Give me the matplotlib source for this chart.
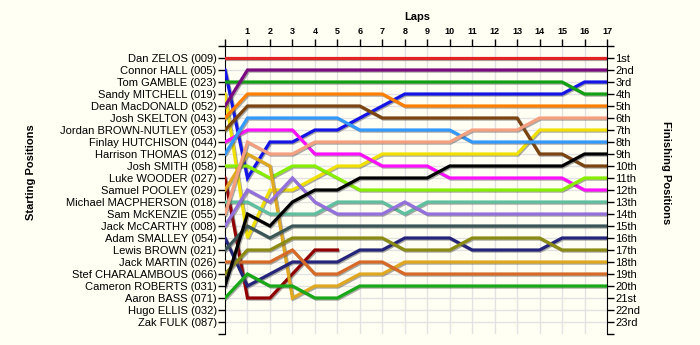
import numpy as np
import matplotlib
matplotlib.use('Agg')
import matplotlib.pyplot as plt
import matplotlib.patheffects as pe

plt.rcParams['font.family'] = ['Liberation Sans', 'DejaVu Sans']

# starting grid, top to bottom
drivers = ['Dan ZELOS (009)', 'Connor HALL (005)', 'Tom GAMBLE (023)', 'Sandy MITCHELL (019)',
           'Dean MacDONALD (052)', 'Josh SKELTON (043)', 'Jordan BROWN-NUTLEY (053)',
           'Finlay HUTCHISON (044)', 'Harrison THOMAS (012)', 'Josh SMITH (058)',
           'Luke WOODER (027)', 'Samuel POOLEY (029)', 'Michael MACPHERSON (018)',
           'Sam McKENZIE (055)', 'Jack McCARTHY (008)', 'Adam SMALLEY (054)',
           'Lewis BROWN (021)', 'Jack MARTIN (026)', 'Stef CHARALAMBOUS (066)',
           'Cameron ROBERTS (031)', 'Aaron BASS (071)', 'Hugo ELLIS (032)', 'Zak FULK (087)']

finish_labels = ['1st', '2nd', '3rd'] + ['%dth' % i for i in range(4, 21)] + ['21st', '22nd', '23rd']

laps = np.arange(0, 18)

# position at lap 0 (grid) .. lap 17
zelos      = [1] * 18
hall       = [2, 11, 8, 8, 7, 7, 6, 5, 4, 4, 4, 4, 4, 4, 4, 4, 3, 3]
gamble     = [3] * 16 + [4, 4]
mitchell   = [4, 16, 12, 12, 11, 10, 10, 9, 9, 9, 9, 9, 9, 9, 7, 7, 7, 7]
macdonald  = [5] + [2] * 17
skelton    = [6, 4, 4, 4, 4, 4, 4, 4, 5, 5, 5, 5, 5, 5, 5, 5, 5, 5]
brown_n    = [7, 5, 5, 5, 5, 5, 5, 6, 6, 6, 6, 6, 6, 6, 9, 9, 10, 10]
hutchison  = [8, 7, 7, 7, 9, 9, 9, 10, 10, 10, 11, 11, 11, 11, 11, 11, 12, 12]
thomas     = [9, 6, 6, 6, 6, 6, 7, 7, 7, 7, 7, 8, 8, 8, 8, 8, 8, 8]
smith      = [10, 10, 11, 10, 10, 11, 12, 12, 12, 12, 12, 12, 12, 12, 12, 12, 11, 11]
wooder     = [11, 21, 21, 19, 17, 17] + [np.nan] * 12
pooley     = [12, 9, 10, 21, 20, 20, 19, 19, 18, 18, 18, 18, 18, 18, 18, 18, 18, 18]
macpherson = [13, 13, 14, 14, 14, 13, 13, 13, 14, 13, 13, 13, 13, 13, 13, 13, 13, 13]
mckenzie   = [14, 8, 9, 9, 8, 8, 8, 8, 8, 8, 8, 7, 7, 7, 6, 6, 6, 6]
mccarthy   = [15, 12, 13, 11, 13, 14, 14, 14, 13, 14, 14, 14, 14, 14, 14, 14, 14, 14]
smalley    = [16, 20, 19, 18, 18, 18, 17, 17, 16, 16, 16, 17, 17, 17, 17, 16, 16, 16]
brown_l    = [17, 15, 16, 15, 15, 15, 15, 15, 15, 15, 15, 15, 15, 15, 15, 15, 15, 15]
martin     = [18, 18, 18, 17, 19, 19, 18, 18, 19, 19, 19, 19, 19, 19, 19, 19, 19, 19]
charalambous = [19, 17, 17, 16, 16, 16, 16, 16, 17, 17, 17, 16, 16, 16, 16, 17, 17, 17]
roberts    = [20, 14, 15, 13, 12, 12, 11, 11, 11, 11, 10, 10, 10, 10, 10, 10, 9, 9]
bass       = [21, 19, 20, 20, 21, 21, 20, 20, 20, 20, 20, 20, 20, 20, 20, 20, 20, 20]

series = [zelos, hall, gamble, mitchell, macdonald, skelton, brown_n, hutchison, thomas,
          smith, wooder, pooley, macpherson, mckenzie, mccarthy, smalley, brown_l, martin,
          charalambous, roberts, bass]
colors = ['#e02424', '#1414e6', '#14a014', '#f0e000', '#7a0a80', '#ff8000', '#7a4510',
          '#ff10ff', '#3399ff', '#88ee00', '#900000', '#e0a820', '#5fc0a0', '#f4a080',
          '#9370db', '#24247a', '#3a5656', '#d86a28', '#8a8a14', '#000000', '#18a818']

bg = '#fffff4'
fig = plt.figure(figsize=(7, 3.45), dpi=100, facecolor=bg)
ax = fig.add_axes([225 / 700, 11 / 345, 382 / 700, 288 / 345])
ax.set_facecolor(bg)

shadow = [pe.SimpleLineShadow(offset=(0.8, -0.8), shadow_color='#555555', alpha=0.5), pe.Normal()]
for vals, c in zip(series, colors):
    ax.plot(laps, vals, color=c, lw=2.3, solid_joinstyle='miter', path_effects=shadow, zorder=3)

ax.set_xlim(0, 17)
ax.set_ylim(24, 0)

for x in range(1, 18):
    ax.axvline(x, color='#e2e2e2', lw=1, zorder=1)
for y in range(1, 24):
    ax.axhline(y, color='#e2e2e2', lw=1, zorder=1)

ax.xaxis.tick_top()
ax.set_xticks(laps)
ax.set_xticklabels([''] + [str(i) for i in range(1, 18)], fontsize=6.5, fontweight='bold')
ax.tick_params(axis='x', length=5, width=1, pad=2)
ax.set_yticks(range(0, 25))
ax.set_yticklabels([''] + drivers + [''], fontsize=8)
ax.tick_params(axis='y', length=5, width=1, pad=1)
ax.spines['bottom'].set_visible(False)
ax.spines['right'].set_visible(False)

ax2 = ax.twinx()
ax2.set_ylim(24, 0)
ax2.set_yticks(range(0, 25))
ax2.set_yticklabels([''] + finish_labels + [''], fontsize=8)
ax2.tick_params(axis='y', length=5, width=1, pad=1)
ax2.spines['bottom'].set_visible(False)
ax2.spines['top'].set_visible(False)
ax2.spines['left'].set_visible(False)

fig.text(417 / 700, 1 - 17 / 345, 'Laps', ha='center', va='center', fontsize=8, fontweight='bold')
fig.text(31 / 700, 0.5, 'Starting Positions', ha='center', va='center', rotation=90,
         fontsize=8, fontweight='bold')
fig.text(666 / 700, 0.5, 'Finishing Positions', ha='center', va='center', rotation=-90,
         fontsize=8, fontweight='bold')

fig.savefig('out.png', dpi=100, facecolor=bg)
